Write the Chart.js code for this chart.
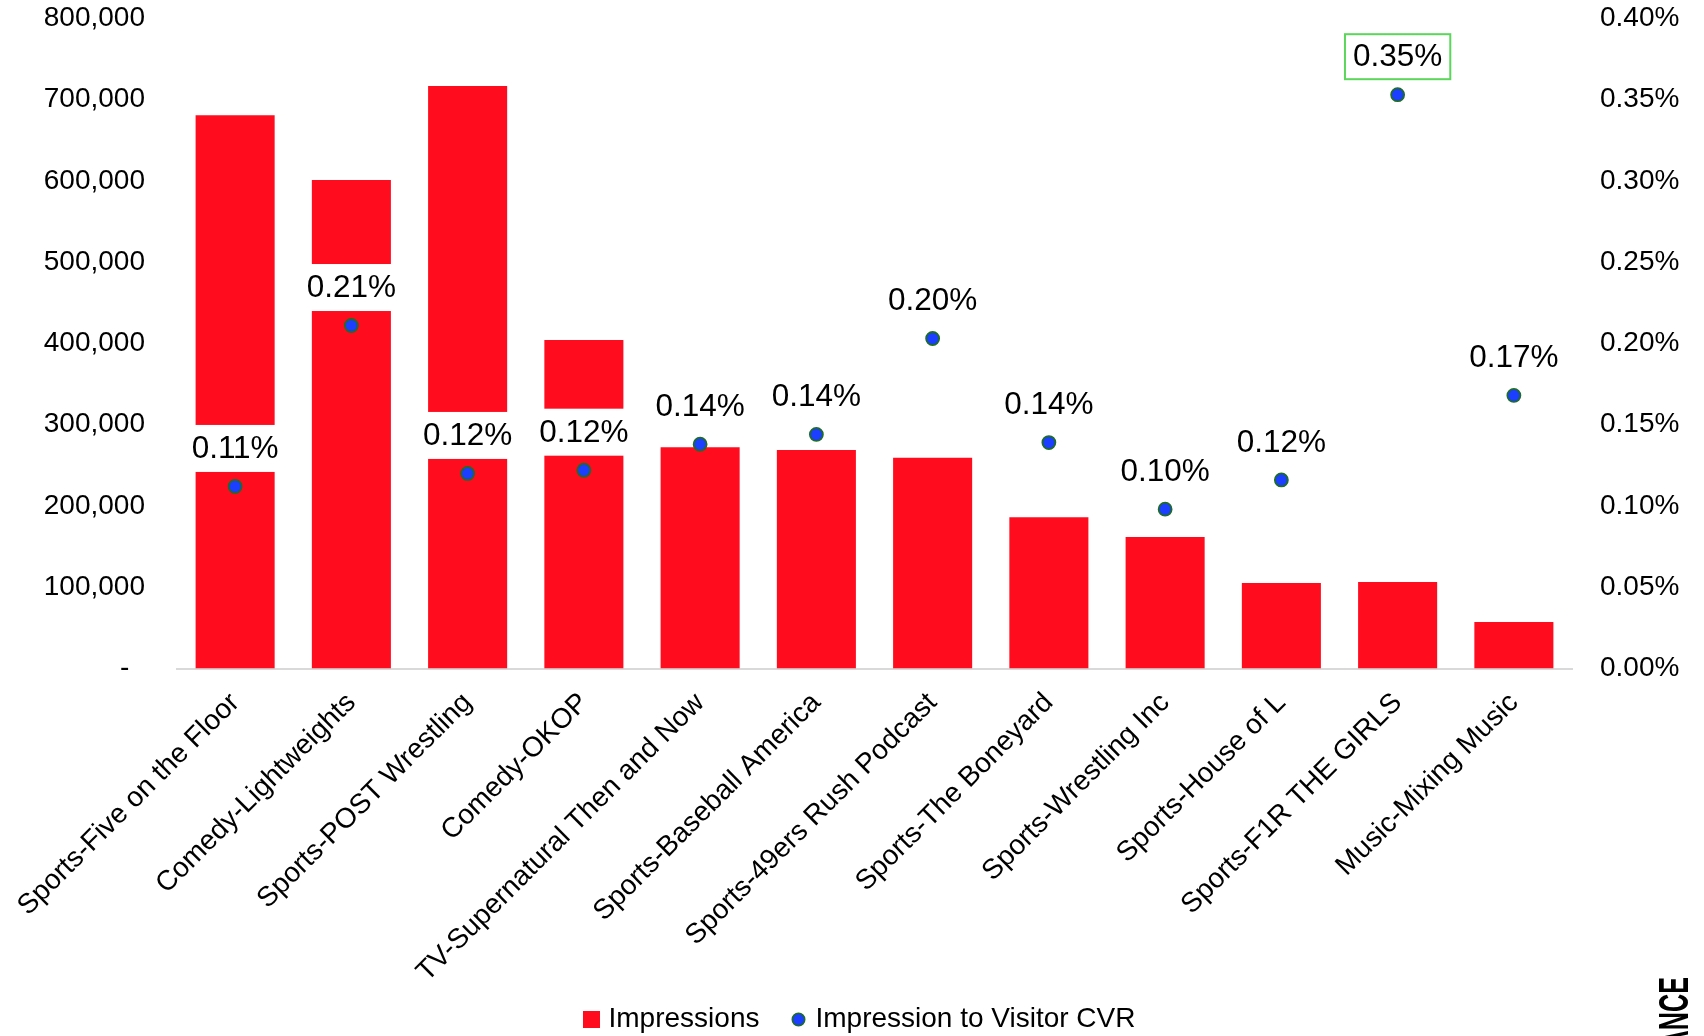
<!DOCTYPE html>
<html>
<head>
<meta charset="utf-8">
<script src="https://cdn.jsdelivr.net/npm/chart.js@4.4.1/dist/chart.umd.min.js"></script>
<style>
html,body{margin:0;padding:0;background:#ffffff;overflow:hidden}
#wrap{width:1704px;height:1036px;position:relative}
</style>
</head>
<body>
<div id="wrap"><canvas id="c" width="1704" height="1036"></canvas></div>
<script>
// ---- data ----
const categories = [
  'Sports-Five on the Floor',
  'Comedy-Lightweights',
  'Sports-POST Wrestling',
  'Comedy-OKOP',
  'TV-Supernatural Then and Now',
  'Sports-Baseball America',
  'Sports-49ers Rush Podcast',
  'Sports-The Boneyard',
  'Sports-Wrestling Inc',
  'Sports-House of L',
  'Sports-F1R THE GIRLS',
  'Music-Mixing Music'
];
const impressions = [680600, 601000, 716700, 404200, 272200, 268800, 259400, 186000, 161800, 105200, 106400, 57200];
const cvrPercent = [0.112, 0.211, 0.120, 0.122, 0.138, 0.144, 0.203, 0.139, 0.098, 0.116, 0.353, 0.168];
const leftTickLabels = ['-  ', '100,000', '200,000', '300,000', '400,000', '500,000', '600,000', '700,000', '800,000'];
const rightTickLabels = ['0.00%', '0.05%', '0.10%', '0.15%', '0.20%', '0.25%', '0.30%', '0.35%', '0.40%'];
const seriesNames = ['Impressions', 'Impression to Visitor CVR'];
const highlightIndex = 10;
const cornerText = 'ANCE';

// ---- styles ----
const FONT = '"Liberation Sans", Arial, sans-serif';
const BAR_COLOR = '#FF0D1F';
const DOT_FILL = '#1B3EFF';
const DOT_BORDER = '#1E6B2A';

function makeSquare() {
  const c = document.createElement('canvas');
  c.width = 17; c.height = 17;
  const g = c.getContext('2d');
  g.fillStyle = BAR_COLOR; g.fillRect(0, 0, 17, 17);
  return c;
}
function makeDot() {
  const c = document.createElement('canvas');
  c.width = 15; c.height = 15;
  const g = c.getContext('2d');
  g.beginPath(); g.arc(7.5, 7.5, 6.2, 0, Math.PI * 2);
  g.fillStyle = DOT_FILL; g.fill();
  g.lineWidth = 1.6; g.strokeStyle = DOT_BORDER; g.stroke();
  return c;
}
const squareImg = makeSquare();
const dotImg = makeDot();

const LEGEND_PAD = 36;
const LEGEND_FONT = 28;

const labelPlugin = {
  id: 'cvrLabels',
  afterDatasetsDraw(chart) {
    const meta = chart.getDatasetMeta(1);
    const ctx = chart.ctx;
    ctx.save();
    ctx.font = '31.5px ' + FONT;
    ctx.textAlign = 'center';
    ctx.textBaseline = 'middle';
    meta.data.forEach((pt, i) => {
      const txt = cvrPercent[i].toFixed(2) + '%';
      const w = ctx.measureText(txt).width + 16;
      const h = 47;
      const cy = pt.y - 38;
      ctx.fillStyle = '#ffffff';
      ctx.fillRect(pt.x - w / 2, cy - h / 2, w, h);
      if (i === highlightIndex) {
        ctx.strokeStyle = '#5BD65B';
        ctx.lineWidth = 2;
        ctx.strokeRect(pt.x - w / 2, cy - h / 2 + 1, w, h - 2);
      }
      ctx.fillStyle = '#000000';
      ctx.fillText(txt, pt.x, cy + 1);
    });
    ctx.restore();
  },
  afterLayout(chart) {
    const lg = chart.legend;
    if (lg) {
      const h = lg.height;
      lg.top = 1019.5 - LEGEND_PAD - LEGEND_FONT / 2;
      lg.bottom = lg.top + h;
      lg.left += 10; lg.right += 10;
    }
    // let the rotated category labels use the full height below the axis
    chart.scales.x.bottom = chart.height;
  },
  afterDraw(chart) {
    const ctx = chart.ctx;
    ctx.save();
    ctx.translate(1688, 977);
    ctx.rotate(-Math.PI / 2);
    ctx.scale(0.6, 1);
    ctx.font = 'bold 42px ' + FONT;
    ctx.textAlign = 'right';
    ctx.textBaseline = 'alphabetic';
    ctx.fillStyle = '#000000';
    ctx.fillText(cornerText, 0, 0);
    ctx.restore();
  }
};

function noVPad(s) { s.paddingTop = 0; s.paddingBottom = 0; }

new Chart(document.getElementById('c'), {
  data: {
    labels: categories,
    datasets: [
      {
        type: 'bar',
        label: seriesNames[0],
        data: impressions,
        backgroundColor: BAR_COLOR,
        borderWidth: 0,
        yAxisID: 'y',
        order: 2,
        categoryPercentage: 1,
        barPercentage: 0.68
      },
      {
        type: 'line',
        label: seriesNames[1],
        data: cvrPercent,
        showLine: false,
        pointRadius: 6.5,
        pointBackgroundColor: DOT_FILL,
        pointBorderColor: DOT_BORDER,
        pointBorderWidth: 1.8,
        yAxisID: 'y2',
        order: 1
      }
    ]
  },
  options: {
    responsive: false,
    animation: false,
    devicePixelRatio: 1,
    layout: { padding: { top: 18.3, left: 0, right: 0, bottom: 0 } },
    plugins: {
      tooltip: { enabled: false },
      legend: {
        position: 'bottom',
        labels: {
          usePointStyle: true,
          boxWidth: 6,
          boxHeight: LEGEND_FONT,
          padding: LEGEND_PAD,
          color: '#000000',
          font: { family: FONT, size: LEGEND_FONT },
          generateLabels: () => [
            { text: seriesNames[0], pointStyle: squareImg, fillStyle: BAR_COLOR, strokeStyle: BAR_COLOR, lineWidth: 0, hidden: false, datasetIndex: 0, fontColor: '#000000' },
            { text: seriesNames[1], pointStyle: dotImg, fillStyle: DOT_FILL, strokeStyle: DOT_BORDER, lineWidth: 0, hidden: false, datasetIndex: 1, fontColor: '#000000' }
          ]
        }
      }
    },
    scales: {
      x: {
        offset: true,
        grid: { display: false },
        border: { display: true, color: '#D9D9D9', width: 2 },
        ticks: {
          autoSkip: false,
          minRotation: 45,
          maxRotation: 45,
          padding: 10,
          color: '#000000',
          font: { family: FONT, size: 28 }
        },
        afterFit(s) { s.height = 1036 - 668.5 - s.chart.legend.height; }
      },
      y: {
        position: 'left',
        min: 0,
        max: 800000,
        grid: { display: false },
        border: { display: false },
        ticks: {
          stepSize: 100000,
          padding: 24,
          color: '#000000',
          font: { family: FONT, size: 28 },
          callback: (v, i) => leftTickLabels[i]
        },
        afterFit(s) { s.width = 177; noVPad(s); }
      },
      y2: {
        position: 'right',
        min: 0,
        max: 0.4,
        grid: { display: false },
        border: { display: false },
        ticks: {
          stepSize: 0.05,
          padding: 20,
          color: '#000000',
          font: { family: FONT, size: 28 },
          callback: (v, i) => rightTickLabels[i]
        },
        afterFit(s) { s.width = 132; noVPad(s); }
      }
    }
  },
  plugins: [labelPlugin]
});
</script>
</body>
</html>
